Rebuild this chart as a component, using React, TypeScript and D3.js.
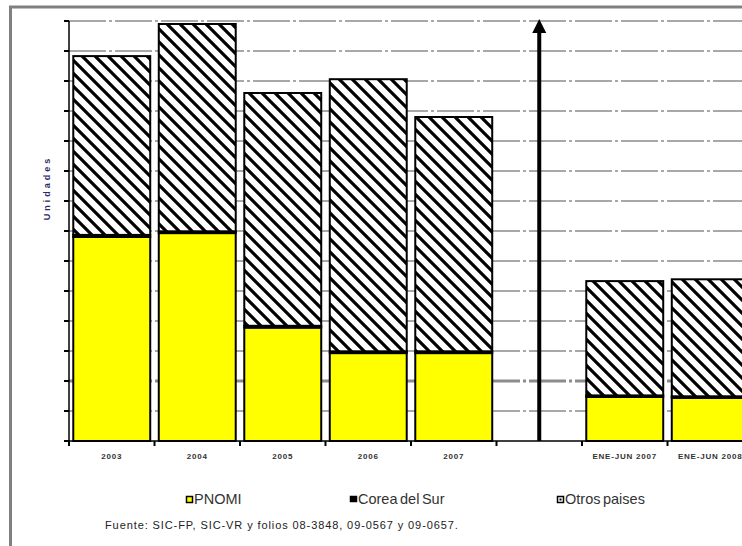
import React, { useEffect, useRef } from "react";
import * as d3 from "d3";

// categories (the empty slot holds the divider arrow)
const categories = [
  "2003",
  "2004",
  "2005",
  "2006",
  "2007",
  "gap",
  "ENE-JUN 2007",
  "ENE-JUN 2008",
];
const categoryLabels = ["2003", "2004", "2005", "2006", "2007", "", "ENE-JUN 2007", "ENE-JUN 2008"];

// series values (estimated, no scale printed)
const pnomi = [34000, 34650, 18900, 14650, 14650, 0, 7350, 7200];
const corea = [350, 300, 300, 300, 300, 0, 250, 250];
const otros = [29800, 34550, 38800, 45350, 39050, 0, 19050, 19500];

const seriesKeys = ["pnomi", "corea", "otros"];
const seriesNames = ["PNOMI", "Corea del Sur", "Otros paises"];

const yMax = 70000;
const yStep = 5000;

const App: React.FC = () => {
  const svgRef = useRef<SVGSVGElement>(null);

  useEffect(() => {
    if (!svgRef.current) return;
    const svg = d3.select(svgRef.current);
    svg.selectAll("*").remove();

    const width = 742;
    const height = 546;
    const plot = { left: 69, right: 753, top: 21, bottom: 441 };

    svg.attr("width", width).attr("height", height);

    // hatch pattern for "Otros paises"
    const defs = svg.append("defs");
    const pat = defs
      .append("pattern")
      .attr("id", "hatch")
      .attr("patternUnits", "userSpaceOnUse")
      .attr("width", 13)
      .attr("height", 13);
    pat.append("rect").attr("width", 13).attr("height", 13).attr("fill", "#fff");
    pat
      .append("path")
      .attr("d", "M-4,-4 L17,17 M-4,9 L4,17 M9,-4 L17,4")
      .attr("stroke", "#000")
      .attr("stroke-width", 3.2);

    // background + frame
    svg.append("rect").attr("width", width).attr("height", height).attr("fill", "#fff");
    svg
      .append("rect")
      .attr("x", 10.5)
      .attr("y", 7)
      .attr("width", width + 20)
      .attr("height", height + 20)
      .attr("fill", "#fff")
      .attr("stroke", "#808080")
      .attr("stroke-width", 3);

    const data = categories.map((c, i) => ({
      cat: c,
      pnomi: pnomi[i],
      corea: corea[i],
      otros: otros[i],
    }));

    const xScale = d3
      .scaleBand()
      .domain(categories)
      .range([plot.left, plot.right])
      .paddingInner(0.1)
      .paddingOuter(0.05);

    const yScale = d3.scaleLinear().domain([0, yMax]).range([plot.bottom, plot.top]);

    const yTicks = d3.range(0, yMax + 1, yStep);

    // gridlines
    svg
      .append("g")
      .selectAll("line")
      .data(yTicks.filter((t) => t > 0))
      .enter()
      .append("line")
      .attr("x1", plot.left)
      .attr("x2", width)
      .attr("y1", (d) => yScale(d))
      .attr("y2", (d) => yScale(d))
      .attr("stroke", "#8c8c8c")
      .attr("stroke-width", (d) => (d === 10000 ? 3 : 1.5))
      .attr("stroke-dasharray", "37,3,3,3");

    // stacked bars
    const stack = d3.stack<any>().keys(seriesKeys);
    const stacked = stack(data);
    const fills = ["#ffff00", "#000000", "url(#hatch)"];

    stacked.forEach((layer, li) => {
      svg
        .append("g")
        .selectAll("rect")
        .data(layer.filter((d) => d[1] - d[0] > 0))
        .enter()
        .append("rect")
        .attr("x", (d) => xScale(d.data.cat) || 0)
        .attr("width", xScale.bandwidth())
        .attr("y", (d) => yScale(d[1]))
        .attr("height", (d) => yScale(d[0]) - yScale(d[1]))
        .attr("fill", fills[li])
        .attr("stroke", "#000")
        .attr("stroke-width", 2);
    });

    // y axis
    const yAxis = svg.append("g");
    yAxis
      .append("line")
      .attr("x1", plot.left)
      .attr("x2", plot.left)
      .attr("y1", plot.top)
      .attr("y2", plot.bottom)
      .attr("stroke", "#000")
      .attr("stroke-width", 1.5);
    yAxis
      .selectAll(".ytick")
      .data(yTicks)
      .enter()
      .append("line")
      .attr("x1", plot.left - 5)
      .attr("x2", plot.left)
      .attr("y1", (d) => yScale(d))
      .attr("y2", (d) => yScale(d))
      .attr("stroke", "#000")
      .attr("stroke-width", 2);

    // x axis
    const xAxis = svg.append("g");
    xAxis
      .append("line")
      .attr("x1", plot.left)
      .attr("x2", width)
      .attr("y1", plot.bottom)
      .attr("y2", plot.bottom)
      .attr("stroke", "#000")
      .attr("stroke-width", 1.5);
    const step = xScale.step();
    const xStart = (xScale(categories[0]) || 0) - step * 0.05;
    xAxis
      .selectAll(".xtick")
      .data(d3.range(categories.length + 1))
      .enter()
      .append("line")
      .attr("x1", (i) => xStart + i * step)
      .attr("x2", (i) => xStart + i * step)
      .attr("y1", plot.bottom)
      .attr("y2", plot.bottom + 5)
      .attr("stroke", "#000")
      .attr("stroke-width", 2);
    xAxis
      .selectAll(".xlabel")
      .data(categories)
      .enter()
      .append("text")
      .attr("x", (d) => (xScale(d) || 0) + xScale.bandwidth() / 2)
      .attr("y", 459)
      .attr("text-anchor", "middle")
      .style("font-family", "'Liberation Sans', Arial, sans-serif")
      .style("font-size", "8px")
      .style("font-weight", "bold")
      .style("letter-spacing", "0.8px")
      .style("fill", "#333")
      .text((d, i) => categoryLabels[i]);

    // divider arrow
    const ax = (xScale("gap") || 0) + xScale.bandwidth() / 2;
    svg
      .append("line")
      .attr("x1", ax)
      .attr("x2", ax)
      .attr("y1", plot.bottom)
      .attr("y2", plot.top + 10)
      .attr("stroke", "#000")
      .attr("stroke-width", 4);
    svg
      .append("path")
      .attr("d", `M${ax},${plot.top - 2} L${ax - 7},${plot.top + 12} L${ax + 7},${plot.top + 12} Z`)
      .attr("fill", "#000");

    // y axis title
    svg
      .append("text")
      .attr("transform", `translate(50, 188) rotate(-90)`)
      .attr("text-anchor", "middle")
      .style("font-family", "'Liberation Sans', Arial, sans-serif")
      .style("font-size", "9px")
      .style("font-weight", "bold")
      .style("letter-spacing", "3px")
      .style("fill", "#2a2a6a")
      .text("Unidades");

    // legend
    const legendX = [186, 350, 557];
    const legend = svg.append("g");
    seriesNames.forEach((name, i) => {
      legend
        .append("rect")
        .attr("x", legendX[i] + 0.5)
        .attr("y", 496.5)
        .attr("width", 6)
        .attr("height", i === 1 ? 5 : 6)
        .attr("fill", i === 2 ? "#fff" : fills[i])
        .attr("stroke", "#000")
        .attr("stroke-width", 1.5);
      if (i === 2) {
        legend
          .append("rect")
          .attr("x", legendX[i] + 2.5)
          .attr("y", 498.5)
          .attr("width", 2)
          .attr("height", 2)
          .attr("fill", "#000");
      }
      legend
        .append("text")
        .attr("x", legendX[i] + 8)
        .attr("y", 504)
        .style("font-family", "'Liberation Sans', Arial, sans-serif")
        .style("font-size", "14.5px")
        .style("word-spacing", "-1.5px")
        .style("fill", "#333")
        .text(name);
    });

    // source note
    svg
      .append("text")
      .attr("x", 105)
      .attr("y", 529)
      .style("font-family", "'Liberation Sans', Arial, sans-serif")
      .style("font-size", "11px")
      .style("letter-spacing", "0.9px")
      .style("fill", "#222")
      .text("Fuente: SIC-FP, SIC-VR y folios 08-3848,  09-0567 y 09-0657.");
  }, []);

  return (
    <div style={{ position: "absolute", left: 0, top: 0 }}>
      <svg ref={svgRef} style={{ display: "block" }}></svg>
    </div>
  );
};

export default App;
